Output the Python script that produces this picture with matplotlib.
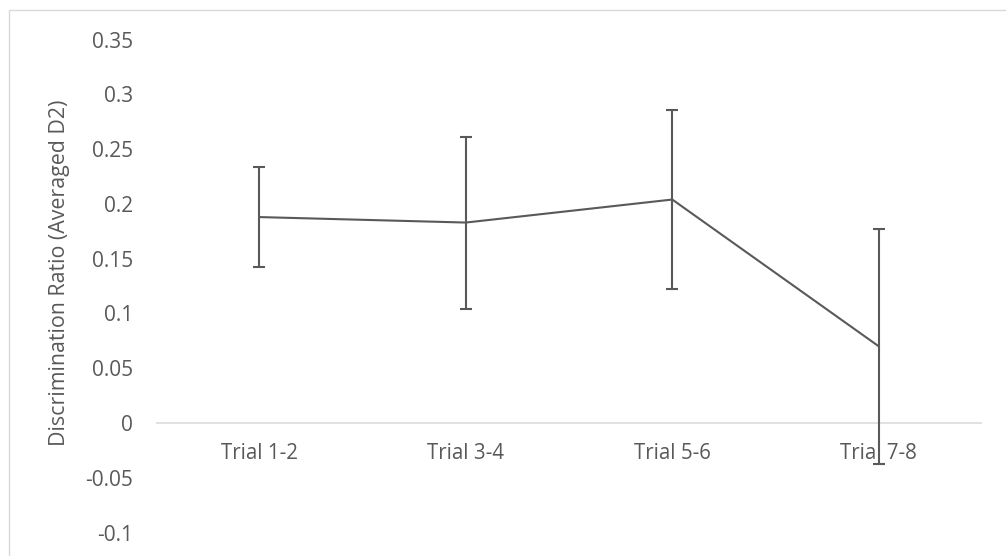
import matplotlib
matplotlib.use("Agg")
import matplotlib.pyplot as plt
from matplotlib.patches import Rectangle

# data
categories = ["Trial 1-2", "Trial 3-4", "Trial 5-6", "Trial 7-8"]
means = [0.188, 0.183, 0.204, 0.070]
errors = [0.0455, 0.0785, 0.082, 0.107]
y_ticks = [-0.1, -0.05, 0, 0.05, 0.1, 0.15, 0.2, 0.25, 0.3, 0.35]
y_tick_labels = ["-0.1", "-0.05", "0", "0.05", "0.1", "0.15", "0.2", "0.25", "0.3", "0.35"]

TEXT = "#595959"
LINE = "#595959"
GRID = "#D9D9D9"

plt.rcParams["font.family"] = ["Open Sans", "DejaVu Sans"]

fig = plt.figure(figsize=(10.06, 5.56), dpi=100)
ax = fig.add_axes([0.1551, 0.0421, 0.8211, 0.8867])

# chart border (cropped at right/bottom in the reference)
fig.patches.append(Rectangle((9 / 1006, -0.1), 1.2, 1 - 10 / 556 + 0.1,
                             transform=fig.transFigure, fill=False,
                             edgecolor=GRID, linewidth=1.0))

x = list(range(len(categories)))
ax.axhline(0, color=GRID, linewidth=1.1, zorder=1)
ax.errorbar(x, means, yerr=errors, color=LINE, linewidth=1.5,
            elinewidth=1.5, capsize=4, capthick=1.5, zorder=3)

ax.set_xlim(-0.5, len(categories) - 0.5)
ax.set_ylim(-0.1, 0.35)
ax.set_yticks(y_ticks)
ax.set_yticklabels(y_tick_labels)
ax.set_xticks([])
ax.tick_params(axis="y", length=0, pad=16.5, labelsize=15, labelcolor=TEXT)
for s in ax.spines.values():
    s.set_visible(False)

for i, lab in enumerate(categories):
    ax.annotate(lab, xy=(i, 0), xytext=(0, -21.6), textcoords="offset points",
                ha="center", va="center", fontsize=14.8, color=TEXT)

fig.text(60 / 1006, 0.51, "Discrimination Ratio (Averaged D2)", rotation=90,
         ha="center", va="center", fontsize=15.4, color=TEXT)

plt.savefig("out.png", dpi=100)
plt.close()
